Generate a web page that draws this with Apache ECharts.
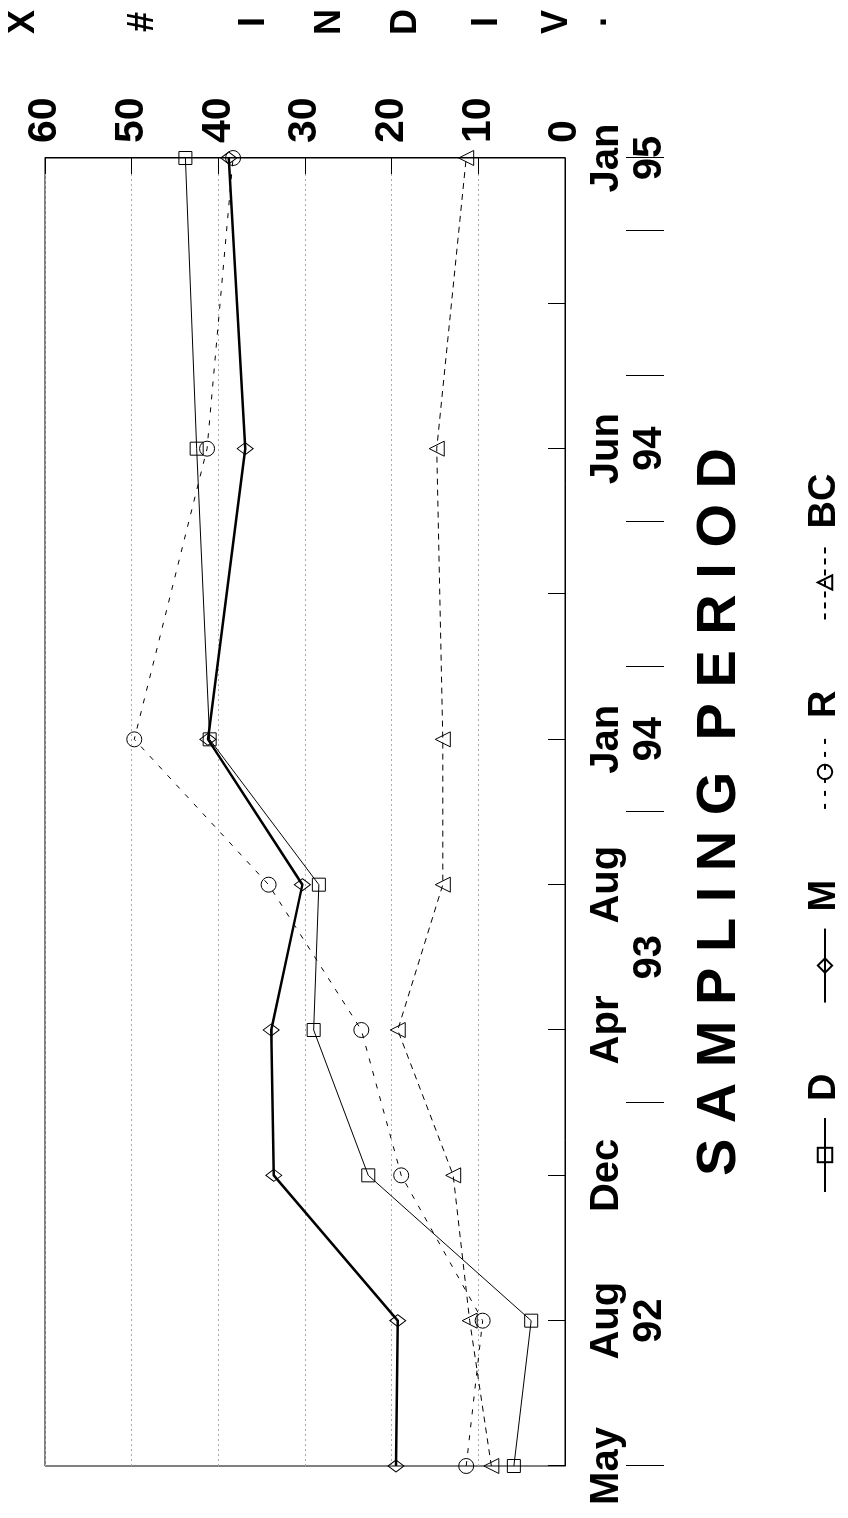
<!DOCTYPE html>
<html>
<head>
<meta charset="utf-8">
<script src="https://cdn.jsdelivr.net/npm/echarts@6/dist/echarts.min.js"></script>
<style>
html, body { margin: 0; padding: 0; width: 848px; height: 1518px; overflow: hidden; background: #fff; }
#wrap { position: absolute; left: 0; top: 0; width: 1518px; height: 848px;
  transform-origin: 0 0; transform: translate(0, 1518px) rotate(-90deg); }
</style>
</head>
<body>
<div id="wrap"></div>
<script>
// ---- data ----
const categories = ['May', 'Aug\n92', 'Dec', 'Apr', 'Aug', 'Jan\n94', '', 'Jun\n94', '', 'Jan\n95'];
const halfStepLabels = ['', '', '', '', '', '', '', '93', '', '', '', '', '', '', '', '', '', '', ''];
const halfStepTickIdx = [0, 5, 9, 11, 13, 15, 17, 18];
const seriesNames = ['D', 'M', 'R', 'BC'];
const valuesD  = [5.9, 3.9, 22.7, 29.0, 28.4, 41.0, null, 42.5, null, 43.8];
const valuesM  = [19.5, 19.3, 33.6, 33.9, 30.3, 41.2, null, 36.9, null, 38.8];
const valuesR  = [11.4, 9.5, 18.9, 23.5, 34.2, 49.7, null, 41.3, null, 38.3];
const valuesBC = [8.5, 11.0, 12.9, 19.3, 14.1, 14.1, null, 14.8, null, 11.4];
const xTitle = 'S A M P L I N G  P E R I O D';
const yTitleChars = ['X', '#', 'I', 'N', 'D', 'I', 'V', '.'];

// ---- styling ----
const FONT = '"Liberation Sans", Arial, Helvetica, sans-serif';
const yTitleY = [24, 143, 254, 330, 406, 487, 557, 596];

const chart = echarts.init(document.getElementById('wrap'), null, { width: 1518, height: 848 });

const hollow = { color: 'rgba(255,255,255,0)', borderColor: '#000', borderWidth: 1 };
function lineSeries(name, data, symbol, size, lw, dash) {
  return {
    name: name, type: 'line', data: data, connectNulls: true,
    symbol: symbol, symbolSize: size, showSymbol: true,
    lineStyle: { color: '#000', width: lw, type: dash },
    itemStyle: hollow,
    emphasis: { disabled: true }, clip: false, z: 3
  };
}

const option = {
  animation: false,
  backgroundColor: '#fff',
  grid: { left: 52, right: 158, top: 45, bottom: 283, show: true, borderColor: '#000', borderWidth: 1,
          containLabel: false, outerBoundsMode: 'none' },
  legend: {
    data: seriesNames, left: 325, top: 806, padding: 0,
    itemWidth: 74, itemHeight: 18, itemGap: 70,
    textStyle: { color: '#000', fontSize: 38, fontWeight: 'bold', fontFamily: FONT, padding: [0, 0, 0, 12] }
  },
  xAxis: [
    {
      type: 'category', data: categories, boundaryGap: false, position: 'bottom',
      axisLine: { show: true, lineStyle: { color: '#000', width: 1 } },
      axisTick: { show: true, inside: true, length: 17, interval: 0, lineStyle: { color: '#000' } },
      axisLabel: { interval: 0, margin: 20, color: '#000', fontSize: 40, fontWeight: 'bold', fontFamily: FONT, lineHeight: 43 },
      splitLine: { show: false },
      name: xTitle, nameLocation: 'middle', nameGap: 127,
      nameTextStyle: { color: '#000', fontSize: 56, fontWeight: 'bold', fontFamily: FONT }
    },
    {
      type: 'category', data: halfStepLabels, boundaryGap: false, position: 'bottom', offset: 61,
      axisLine: { show: false },
      axisTick: { show: true, inside: false, length: 38,
                  interval: function (i) { return halfStepTickIdx.indexOf(i) >= 0; },
                  lineStyle: { color: '#000', width: 1 } },
      axisLabel: { interval: 0, margin: 2, color: '#000', fontSize: 40, fontWeight: 'bold', fontFamily: FONT, lineHeight: 43 },
      splitLine: { show: false }
    }
  ],
  yAxis: {
    type: 'value', min: 0, max: 60, interval: 10, position: 'right',
    axisLine: { show: true, lineStyle: { color: '#000' } },
    axisTick: { show: true, inside: true, length: 16, lineStyle: { color: '#000' } },
    axisLabel: { margin: 15, color: '#000', fontSize: 41, fontWeight: 'bold', fontFamily: FONT },
    splitLine: { show: true, lineStyle: { color: '#aaa', type: [2, 3], width: 1 } }
  },
  graphic: yTitleChars.map(function (c, i) {
    return {
      type: 'text', x: 1496, y: yTitleY[i],
      style: { text: c, fill: '#000', font: 'bold 36px ' + FONT, textAlign: 'center', textVerticalAlign: 'middle' }
    };
  }),
  series: [
    lineSeries(seriesNames[0], valuesD, 'rect', 13, 1, 'solid'),
    lineSeries(seriesNames[1], valuesM, 'diamond', [12, 16], 2.5, 'solid'),
    lineSeries(seriesNames[2], valuesR, 'circle', 15, 1, [5, 8]),
    lineSeries(seriesNames[3], valuesBC, 'triangle', 15, 1, [6, 5])
  ]
};
chart.setOption(option);
</script>
</body>
</html>
